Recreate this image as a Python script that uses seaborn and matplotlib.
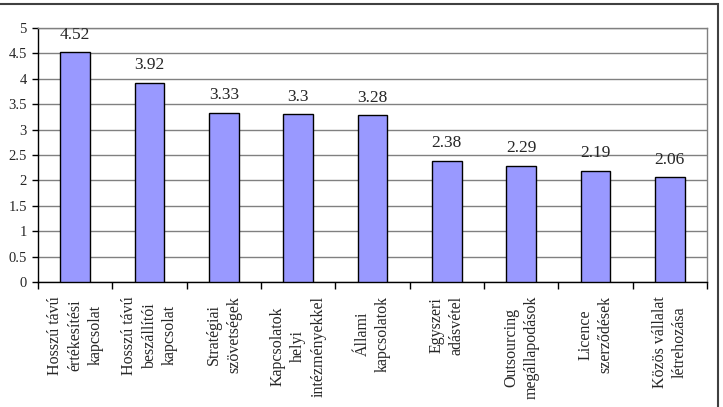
import matplotlib
matplotlib.use("Agg")
import matplotlib.pyplot as plt
import seaborn as sns
import pandas as pd
from matplotlib.patches import Rectangle
from matplotlib.ticker import FixedLocator

categories = [
    "Hosszú távú\nértékesítési\nkapcsolat",
    "Hosszú távú\nbeszállítói\nkapcsolat",
    "Stratégiai\nszövetségek",
    "Kapcsolatok\nhelyi\nintézményekkel",
    "Állami\nkapcsolatok",
    "Egyszeri\nadásvétel",
    "Outsourcing\nmegállapodások",
    "Licence\nszerződések",
    "Közös vállalat\nlétrehozása",
]
values = [4.52, 3.92, 3.33, 3.3, 3.28, 2.38, 2.29, 2.19, 2.06]
yticks = [0, 0.5, 1, 1.5, 2, 2.5, 3, 3.5, 4, 4.5, 5]
ytick_labels = ["0", "0.5", "1", "1.5", "2", "2.5", "3", "3.5", "4", "4.5", "5"]

sns.set_theme(style="white")
plt.rcParams['font.family'] = ['Liberation Serif', 'DejaVu Serif']

df = pd.DataFrame({"cat": categories, "val": values})

fig = plt.figure(figsize=(7.23, 4.07), dpi=100)
ax = fig.add_axes([38/723, 1-282/407, (707-38)/723, (282-28)/407])

sns.barplot(data=df, x="cat", y="val", color="#9999FF", edgecolor="black",
            linewidth=1.0, width=0.4, saturation=1, ax=ax, zorder=3)

ax.set_xlim(-0.5, len(categories) - 0.5)
ax.set_ylim(0, 5)
ax.yaxis.grid(True, color="#808080", linewidth=1.0, zorder=0)
ax.set_axisbelow(True)
ax.set_yticks(yticks)
ax.set_yticklabels(ytick_labels, fontsize=10.5)
ax.set_xlabel("")
ax.set_ylabel("")

ax.set_xticks(range(len(categories)))
ax.set_xticklabels(categories, rotation=90, fontsize=11.5, multialignment="center", linespacing=1.35)
ax.tick_params(axis="x", which="major", length=0, pad=10)
ax.xaxis.set_minor_locator(FixedLocator([i + 0.5 for i in range(-1, len(categories))]))
ax.tick_params(axis="x", which="minor", length=5, width=1, color="black", direction="out", bottom=True)
ax.tick_params(axis="y", which="major", length=4, width=1, color="black", direction="out", left=True, pad=4)

for s in ["left", "bottom"]:
    ax.spines[s].set_color("black")
    ax.spines[s].set_linewidth(1.0)
for s in ["top", "right"]:
    ax.spines[s].set_color("#808080")
    ax.spines[s].set_linewidth(1.0)

ax.bar_label(ax.containers[0], labels=[f"{v:g}" for v in values], padding=7, fontsize=12.5)

fig.patches.append(Rectangle((-0.01, -0.1), 718/723 + 0.01, 1 - 4/407 + 0.1,
                             transform=fig.transFigure, fill=False,
                             edgecolor="#404040", linewidth=1.5, zorder=10))

fig.savefig("out.png", dpi=100)
